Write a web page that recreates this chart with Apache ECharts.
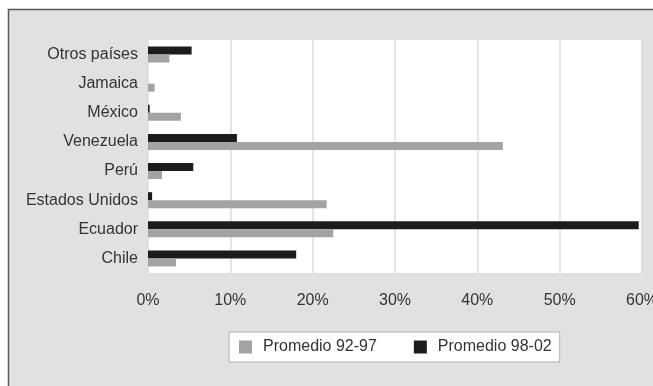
<!DOCTYPE html>
<html>
<head>
<meta charset="utf-8">
<script src="https://cdn.jsdelivr.net/npm/echarts@6/dist/echarts.min.js"></script>
<style>
  html, body { margin: 0; padding: 0; background: #ffffff; }
  #chart { width: 653px; height: 386px; }
</style>
</head>
<body>
<div id="chart"></div>
<script>
// Countries, bottom to top
const paises = ['Chile', 'Ecuador', 'Estados Unidos', 'Perú', 'Venezuela', 'México', 'Jamaica', 'Otros países'];
// Share (%) per period
const promedio9297 = [3.4, 22.5, 21.7, 1.7, 43.1, 4.0, 0.8, 2.6];
const promedio9802 = [18.0, 59.6, 0.5, 5.5, 10.8, 0.2, 0.0, 5.3];
const seriesNames = ['Promedio 92-97', 'Promedio 98-02'];
const xTicks = { min: 0, max: 60, interval: 10 };

const font = 'Liberation Sans, Arial, sans-serif';
const chart = echarts.init(document.getElementById('chart'));

chart.setOption({
  animation: false,
  backgroundColor: '#ffffff',
  graphic: [{
    type: 'rect',
    z: -10,
    shape: { x: 8.5, y: 9.5, width: 660, height: 390 },
    style: { fill: '#e1e1e1', stroke: '#5a5a5a', lineWidth: 1.5 }
  }],
  grid: {
    left: 148, right: 11, top: 40, bottom: 113,
    outerBoundsMode: 'none',
    show: true, backgroundColor: '#ffffff', borderWidth: 0
  },
  legend: {
    left: 229, top: 332,
    itemWidth: 13, itemHeight: 13, itemGap: 37,
    padding: [7, 8, 7, 10],
    backgroundColor: '#ffffff',
    borderColor: '#b0b0b0', borderWidth: 1,
    textStyle: { fontFamily: font, fontSize: 16, color: '#333333', padding: [0, 0, 0, 6] },
    data: seriesNames.map(n => ({ name: n, icon: 'rect' }))
  },
  xAxis: {
    type: 'value',
    min: xTicks.min, max: xTicks.max, interval: xTicks.interval,
    axisLine: { show: false },
    axisTick: { show: false },
    axisLabel: { formatter: '{value}%', margin: 20, fontFamily: font, fontSize: 16, color: '#333333' },
    splitLine: { show: true, lineStyle: { color: '#dcdcdc', width: 1.5 } }
  },
  yAxis: {
    type: 'category',
    data: paises,
    axisLine: { show: false },
    axisTick: { show: false },
    axisLabel: { margin: 10, fontFamily: font, fontSize: 16, color: '#333333' }
  },
  // the later period is listed first so it sits above the earlier one in each row
  series: [
    {
      name: seriesNames[1], type: 'bar', data: promedio9802,
      barWidth: 8, barGap: '0%',
      itemStyle: { color: '#1c1c1c' }
    },
    {
      name: seriesNames[0], type: 'bar', data: promedio9297,
      barWidth: 8, barGap: '0%',
      itemStyle: { color: '#a3a3a5' }
    }
  ]
});
</script>
</body>
</html>
